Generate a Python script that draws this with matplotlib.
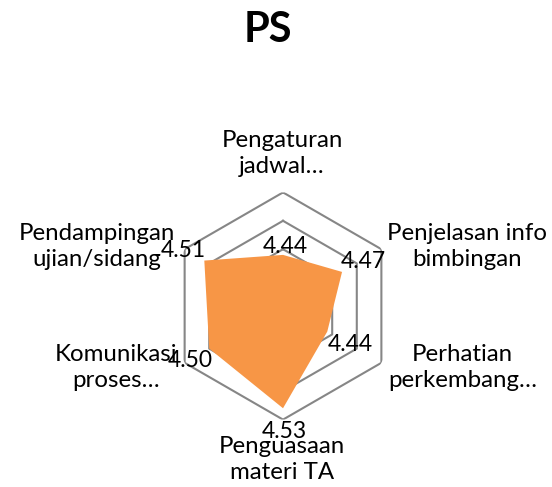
import numpy as np
import matplotlib.pyplot as plt

# Data
categories = ["Pengaturan\njadwal…", "Penjelasan info\nbimbingan", "Perhatian\nperkembang…",
              "Penguasaan\nmateri TA", "Komunikasi\nproses…", "Pendampingan\nujian/sidang"]
values = [4.44, 4.47, 4.44, 4.53, 4.50, 4.51]
value_labels = ["4.44", "4.47", "4.44", "4.53", "4.50", "4.51"]
r_min, r_max, r_step = 4.35, 4.55, 0.05

# label offsets in pixels (x right, y up)
cat_offsets = [(-1, 39), (86, 3), (81, -5), (-1, -40), (-69, -5), (-88, 3)]
val_offsets = [(2, 8), (21, 10), (23, -13), (1, -23), (-19, -12), (-21, 10)]

plt.rcParams['font.family'] = ['Lato', 'DejaVu Sans']

fig = plt.figure(figsize=(5.52, 4.87), dpi=100)
ax = fig.add_axes([0.3069, 0.1384, 0.4116, 0.4665], projection="polar")
ax.set_theta_offset(np.pi / 2)
ax.set_theta_direction(-1)
ax.set_ylim(r_min, r_max)

n = len(values)
angles = np.linspace(0, 2 * np.pi, n, endpoint=False)
closed = np.append(angles, angles[0])

# hexagonal grid rings
for r in np.arange(r_min + r_step, r_max + r_step / 2, r_step):
    ax.plot(closed, [r] * (n + 1), color="#868686", lw=1.5, zorder=1)

ax.fill(closed, values + values[:1], color="#F79646", lw=0, zorder=2)

ax.set_xticks([])
ax.set_yticks([])
ax.grid(False)
ax.spines["polar"].set_visible(False)

for a, lab, off in zip(angles, categories, cat_offsets):
    ax.annotate(lab, xy=(a, r_max), xytext=off, textcoords="offset pixels",
                ha="center", va="center", fontsize=17.3, linespacing=1.3,
                annotation_clip=False, zorder=3)

for a, v, lab, off in zip(angles, values, value_labels, val_offsets):
    ax.annotate(lab, xy=(a, v), xytext=off, textcoords="offset pixels",
                ha="center", va="center", fontsize=16.5, annotation_clip=False, zorder=4)

fig.text(0.4846, 1 - 41.7 / 487, "PS", ha="center", va="baseline",
         fontsize=30, fontweight="bold")

fig.savefig("out.png", dpi=100)
